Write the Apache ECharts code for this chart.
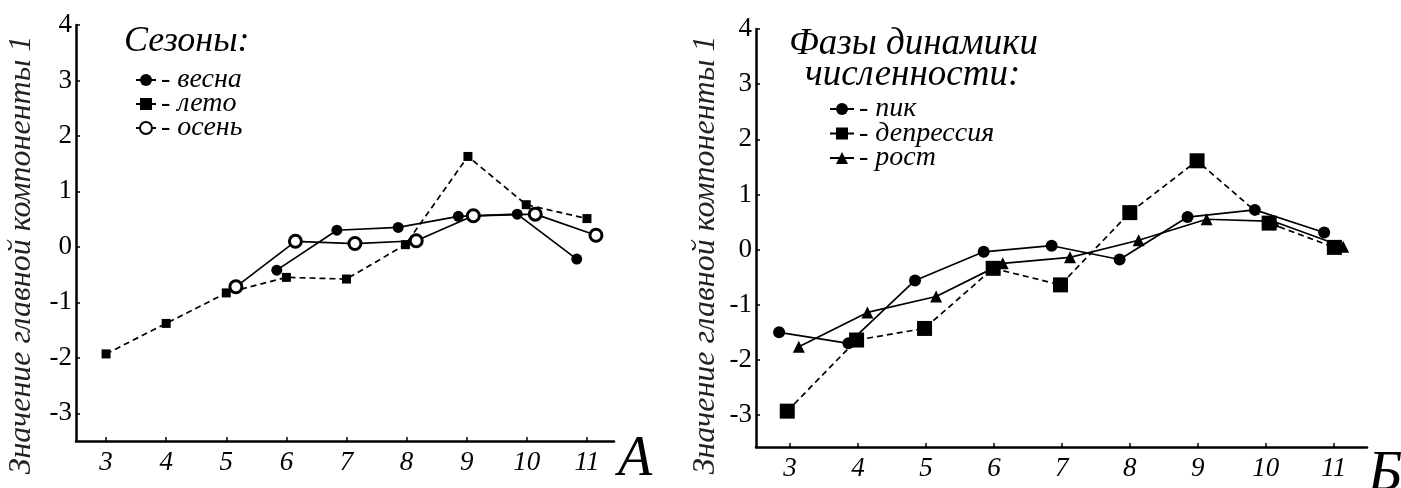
<!DOCTYPE html>
<html>
<head>
<meta charset="utf-8">
<script src="https://cdn.jsdelivr.net/npm/echarts@6/dist/echarts.min.js"></script>
<style>
  html, body { margin: 0; padding: 0; background: #fff; }
  #chart { width: 1401px; height: 488px; }
</style>
</head>
<body>
<div id="chart"></div>
<script>
// tick labels
const xTicks = [3, 4, 5, 6, 7, 8, 9, 10, 11];
const yTicks = [-3, -2, -1, 0, 1, 2, 3, 4];

// panel A: seasons (x positions are slightly offset in the original)
const springX = [5.84, 6.84, 7.86, 8.86, 9.84, 10.83];
const springY = [-0.42, 0.30, 0.35, 0.55, 0.59, -0.22];
const summerX = [3, 4, 5, 6, 7, 7.98, 9.02, 9.99, 11.0];
const summerY = [-1.93, -1.38, -0.83, -0.55, -0.58, 0.04, 1.63, 0.76, 0.51];
const autumnX = [5.16, 6.15, 7.14, 8.16, 9.11, 10.14, 11.15];
const autumnY = [-0.72, 0.10, 0.06, 0.11, 0.56, 0.59, 0.21];

// panel Б: population phases
const peakX = [2.84, 3.86, 4.84, 5.85, 6.85, 7.85, 8.85, 9.84, 10.86];
const peakY = [-1.50, -1.70, -0.56, -0.04, 0.07, -0.18, 0.59, 0.72, 0.31];
const deprX = [2.96, 3.98, 4.98, 5.99, 6.98, 8.0, 8.99, 10.05, 11.01];
const deprY = [-2.93, -1.64, -1.43, -0.34, -0.64, 0.67, 1.61, 0.48, 0.04];
const growX = [3.13, 4.14, 5.15, 6.13, 7.12, 8.13, 9.13, 10.12, 11.14];
const growY = [-1.76, -1.14, -0.85, -0.25, -0.14, 0.17, 0.55, 0.51, 0.05];

const zip = (xs, ys) => xs.map((x, i) => [x, ys[i]]);

const SERIF = "'Liberation Serif', 'DejaVu Serif', serif";
const INK = '#000';
const yName = 'Значение главной компоненты 1';

function xAxisOpt(gridIndex, max) {
  return {
    type: 'value', gridIndex, min: 2.5, max,
    axisLine: { show: true, onZero: false, lineStyle: { color: INK, width: 2.5 } },
    axisTick: { show: true, inside: true, length: 4, customValues: xTicks, lineStyle: { color: INK, width: 1.5 } },
    axisLabel: { customValues: xTicks, color: INK, fontFamily: SERIF, fontStyle: 'italic', fontSize: 27, margin: 8 },
    splitLine: { show: false }
  };
}

function yAxisOpt(gridIndex, min) {
  return {
    type: 'value', gridIndex, min, max: 4,
    axisLine: { show: true, onZero: false, lineStyle: { color: INK, width: 2.5 } },
    axisTick: { show: true, inside: true, length: 4, customValues: yTicks, lineStyle: { color: INK, width: 1.5 } },
    axisLabel: { customValues: yTicks, color: INK, fontFamily: SERIF, fontSize: 27, margin: 4 },
    splitLine: { show: false }
  };
}

function lineSeries(name, data, axis, symbol, size, dashed, extra) {
  return Object.assign({
    name, type: 'line', data,
    xAxisIndex: axis, yAxisIndex: axis,
    symbol, symbolSize: size,
    showAllSymbol: true,
    lineStyle: { color: INK, width: 1.7, type: dashed ? [6, 4] : 'solid' },
    itemStyle: { color: INK },
    emphasis: { disabled: true },
    animation: false
  }, extra || {});
}

const legendText = { color: INK, fontFamily: SERIF, fontStyle: 'italic', fontSize: 28 };

const chart = echarts.init(document.getElementById('chart'));
chart.setOption({
  backgroundColor: '#fff',
  animation: false,
  grid: [
    { left: 76, top: 25, width: 538, height: 416 },
    { left: 756, top: 29, width: 611, height: 418 }
  ],
  xAxis: [xAxisOpt(0, 11.45), xAxisOpt(1, 11.49)],
  yAxis: [yAxisOpt(0, -3.5), yAxisOpt(1, -3.58)],
  legend: [
    {
      data: ['весна', 'лето', 'осень'],
      orient: 'vertical', left: 135, top: 66, padding: 0, itemGap: -4,
      itemWidth: 20, itemHeight: 15, selectedMode: false,
      lineStyle: { type: 'solid', width: 2 },
      formatter: '- {name}', textStyle: legendText
    },
    {
      data: ['пик', 'депрессия', 'рост'],
      orient: 'vertical', left: 829, top: 95, padding: 0, itemGap: -3.5,
      itemWidth: 24, itemHeight: 15, selectedMode: false,
      lineStyle: { type: 'solid', width: 2 },
      formatter: '- {name}', textStyle: legendText
    }
  ],
  graphic: [
    { type: 'text', x: 22, y: 255, rotation: Math.PI / 2,
      style: { text: yName, font: 'italic 32px ' + SERIF, fill: '#222', align: 'center', verticalAlign: 'middle' } },
    { type: 'text', x: 706, y: 255, rotation: Math.PI / 2,
      style: { text: yName, font: 'italic 32px ' + SERIF, fill: '#222', align: 'center', verticalAlign: 'middle' } },
    { type: 'text', left: 124, top: 24, style: { text: 'Сезоны:', font: 'italic 36px ' + SERIF, fill: INK } },
    { type: 'text', left: 789, top: 26, style: { text: 'Фазы динамики', font: 'italic 37px ' + SERIF, fill: INK } },
    { type: 'text', left: 805, top: 57, style: { text: 'численности:', font: 'italic 37px ' + SERIF, fill: INK } },
    { type: 'text', left: 618, top: 432, style: { text: 'A', font: 'italic 56px ' + SERIF, fill: INK } },
    { type: 'text', left: 1368, top: 446, style: { text: 'Б', font: 'italic 58px ' + SERIF, fill: INK } }
  ],
  series: [
    lineSeries('весна', zip(springX, springY), 0, 'circle', 11, false),
    lineSeries('лето', zip(summerX, summerY), 0, 'rect', 9, true),
    lineSeries('осень', zip(autumnX, autumnY), 0, 'circle', 12, false,
      { itemStyle: { color: '#fff', borderColor: INK, borderWidth: 3 } }),
    lineSeries('пик', zip(peakX, peakY), 1, 'circle', 12, false),
    lineSeries('депрессия', zip(deprX, deprY), 1, 'rect', 15, true),
    lineSeries('рост', zip(growX, growY), 1, 'triangle', 12, false)
  ]
});
</script>
</body>
</html>
